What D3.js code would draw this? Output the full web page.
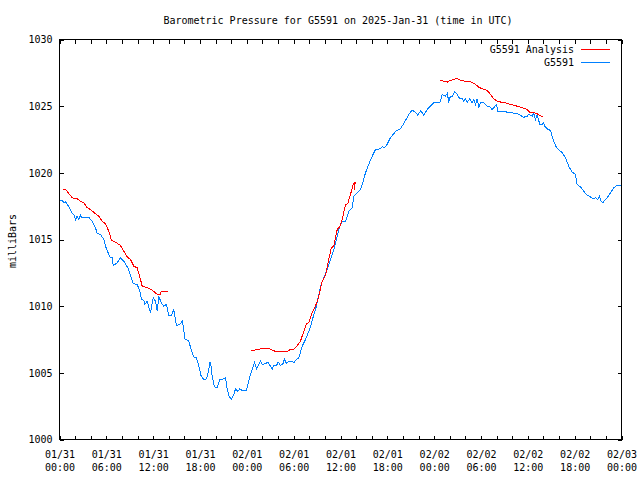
<!DOCTYPE html>
<html>
<head>
<meta charset="utf-8">
<script src="https://cdn.jsdelivr.net/npm/d3@7"></script>
<style>
  html, body { margin: 0; padding: 0; background: #fff; }
  svg text { font-family: "DejaVu Sans Mono", "Liberation Mono", monospace; font-size: 10px; fill: #000; }
</style>
</head>
<body>
<svg id="chart" width="640" height="480"></svg>
<script>
// ---- Data (hours since 2025-01-31 00:00 UTC, pressure in millibars) ----
const stationName = "G5591";
const analysisName = "G5591 Analysis";
const titleText = "Barometric Pressure for G5591 on 2025-Jan-31 (time in UTC)";
const yLabelText = "milliBars";
const yTicks = [1000, 1005, 1010, 1015, 1020, 1025, 1030];

const stationHours = [0.0,0.35,0.55,0.77,0.99,1.41,1.63,1.83,2.05,2.27,2.47,2.69,2.91,3.33,3.75,3.97,4.19,4.61,4.83,5.25,5.68,5.89,6.32,6.53,6.75,6.88,7.39,7.81,8.24,8.75,9.1,9.44,9.95,10.29,10.5,10.8,10.93,11.23,11.66,12.0,12.3,12.52,12.72,13.03,13.36,13.71,14.0,14.35,14.64,14.99,15.41,15.72,15.92,16.01,16.27,16.56,16.87,17.2,17.55,17.85,18.15,18.49,18.83,19.13,19.25,19.43,19.56,19.77,19.98,20.2,20.54,21.05,21.27,21.49,21.69,22.0,22.33,22.55,22.84,23.1,23.4,23.96,24.25,24.47,24.81,24.98,25.24,25.53,25.75,25.97,26.39,26.68,27.03,27.25,27.45,27.8,28.02,28.31,28.66,28.82,29.08,29.37,29.81,30.02,30.23,30.66,31.09,31.51,31.94,32.28,32.58,32.92,33.44,33.86,34.29,34.72,35.14,35.58,35.91,36.22,36.64,36.86,37.06,37.5,37.7,38.14,38.56,38.91,39.2,39.62,40.06,40.48,41.12,41.34,41.63,41.98,42.31,42.75,43.17,43.6,44.03,44.33,44.75,45.18,45.61,45.9,46.25,46.46,46.67,47.1,47.53,47.95,48.39,48.72,49.03,49.45,49.67,49.87,50.09,50.31,50.6,50.95,51.15,51.59,51.79,52.01,52.23,52.56,52.87,53.07,53.29,53.51,53.72,53.93,54.36,54.79,55.12,55.43,55.64,55.98,56.15,56.5,56.84,57.35,57.99,58.63,59.06,59.48,59.92,60.12,60.56,60.76,60.98,61.2,61.53,61.84,62.04,62.13,62.48,62.9,63.12,63.32,63.63,63.96,64.4,64.82,65.24,65.68,66.1,66.32,66.74,67.17,67.51,68.02,68.37,68.66,68.96,69.18,69.4,69.6,69.95,70.24,70.59,71.01,71.45,71.87,72.0];
const stationValues = [1017.87,1017.93,1017.75,1017.83,1017.63,1017.25,1016.95,1016.88,1016.5,1016.75,1016.5,1016.82,1016.63,1016.63,1016.67,1016.5,1016.37,1015.88,1015.45,1015.38,1015.0,1014.5,1013.88,1013.63,1013.63,1013.05,1013.25,1013.63,1013.37,1012.88,1012.3,1011.7,1011.63,1011.12,1010.5,1010.45,1010.13,1010.37,1009.5,1010.63,1010.37,1009.62,1010.75,1010.25,1010.0,1010.13,1009.3,1009.3,1009.75,1008.55,1008.63,1008.87,1008.38,1007.55,1007.5,1007.37,1006.75,1006.2,1006.13,1005.5,1004.75,1004.5,1004.55,1005.25,1005.83,1005.5,1004.75,1004.13,1003.88,1003.88,1004.5,1004.55,1004.63,1003.75,1003.3,1003.0,1003.38,1003.8,1003.62,1003.8,1003.68,1003.68,1004.37,1004.88,1005.5,1005.75,1005.3,1005.63,1005.87,1005.63,1005.68,1005.8,1005.5,1005.25,1005.55,1005.55,1005.8,1005.55,1005.7,1006.05,1005.7,1005.87,1005.87,1005.75,1005.93,1006.13,1007.0,1007.5,1008.12,1008.7,1009.38,1010.0,1011.5,1012.13,1012.75,1013.5,1014.25,1015.25,1016.0,1016.37,1016.37,1016.75,1017.12,1017.38,1018.25,1018.5,1018.75,1019.37,1020.0,1020.63,1021.25,1021.75,1021.8,1021.95,1021.88,1022.13,1022.55,1022.88,1023.18,1023.25,1023.63,1023.93,1024.37,1024.7,1024.55,1024.33,1024.63,1024.5,1024.3,1024.75,1025.0,1025.25,1025.3,1025.25,1025.88,1025.75,1025.95,1025.37,1025.75,1025.7,1026.08,1025.88,1025.63,1025.55,1025.37,1025.55,1025.3,1025.55,1025.25,1025.5,1025.13,1025.55,1024.88,1025.25,1025.25,1025.0,1024.95,1024.75,1024.88,1025.13,1024.62,1024.62,1024.62,1024.55,1024.5,1024.45,1024.3,1024.17,1024.25,1024.38,1024.25,1024.5,1024.0,1024.38,1023.63,1023.63,1023.8,1023.5,1023.3,1023.18,1022.75,1022.37,1021.95,1021.75,1021.5,1021.13,1020.5,1020.05,1019.88,1019.13,1018.95,1018.62,1018.37,1018.2,1018.05,1018.13,1018.0,1018.25,1017.87,1017.75,1018.0,1018.2,1018.5,1018.88,1019.07,1019.05,1019.0];

// Analysis: null marks a gap between runs
const analysisHours = [0.47,0.9,1.19,1.63,2.27,2.69,3.11,3.55,3.97,4.61,5.03,5.47,5.89,6.32,6.66,7.17,7.81,8.24,8.67,9.1,9.52,9.95,10.38,10.59,11.23,11.88,12.52,12.94,13.03,13.93,
  null,
  24.6,25.33,25.75,26.94,27.67,29.17,29.59,30.02,30.45,30.87,31.3,31.64,31.94,32.37,32.92,33.22,33.65,34.08,34.5,34.81,35.14,35.58,35.91,36.22,36.64,36.93,37.28,37.62,37.79,37.83,37.87,
  null,
  48.72,49.23,49.67,50.09,50.86,51.37,52.01,52.65,53.29,53.72,54.36,54.79,55.21,55.64,56.07,56.58,57.14,57.78,58.63,59.27,59.92,60.34,60.85,61.2,61.53,61.97];
const analysisValues = [1018.75,1018.7,1018.45,1018.13,1018.05,1017.87,1017.75,1017.38,1017.25,1016.93,1016.75,1016.37,1016.18,1015.62,1014.95,1014.8,1014.55,1014.12,1013.7,1013.5,1013.0,1012.88,1012.0,1011.5,1011.38,1011.2,1010.88,1010.88,1011.12,1011.12,
  null,
  1006.65,1006.75,1006.8,1006.8,1006.6,1006.6,1006.75,1006.75,1007.05,1007.37,1008.12,1008.7,1008.75,1009.5,1010.2,1010.75,1011.87,1012.3,1013.5,1014.38,1014.5,1015.75,1015.95,1016.5,1017.62,1017.7,1018.37,1019.13,1019.25,1018.75,1019.3,
  null,
  1026.93,1026.87,1026.8,1026.93,1027.08,1026.95,1026.87,1026.83,1026.63,1026.42,1026.25,1026.18,1025.88,1025.55,1025.37,1025.3,1025.25,1025.13,1025.0,1024.88,1024.75,1024.5,1024.5,1024.43,1024.3,1024.2];

// ---- Build ----
const start = Date.UTC(2025, 0, 31, 0, 0);
const end = Date.UTC(2025, 1, 3, 0, 0);
const toDate = h => new Date(start + h * 3600000);

const station = stationHours.map((h, i) => ({ t: toDate(h), v: stationValues[i] }));
const analysis = analysisHours.map((h, i) => (h === null ? { t: null, v: null } : { t: toDate(h), v: analysisValues[i] }));

const L = 59.5, R = 621.5, T = 39.5, B = 439.5;
const svg = d3.select("#chart");

const x = d3.scaleUtc().domain([new Date(start), new Date(end)]).range([L, R]);
const y = d3.scaleLinear().domain([1000, 1030]).range([B, T]);

// title
svg.append("text").attr("x", 338).attr("y", 24).attr("text-anchor", "middle").text(titleText);

// y label
svg.append("text")
  .attr("transform", "translate(12,241) rotate(-90)")
  .attr("text-anchor", "middle").attr("dominant-baseline", "central")
  .text(yLabelText);

const tickEvery = d3.utcHour.every(2);

// bottom axis
const gx = svg.append("g").attr("transform", `translate(0,${B})`)
  .call(d3.axisBottom(x).ticks(tickEvery).tickSizeInner(-4).tickSizeOuter(0).tickFormat(() => ""));
gx.select(".domain").remove();
gx.selectAll("line").attr("stroke", "#000").attr("shape-rendering", "crispEdges");
gx.selectAll(".tick").each(function (d) {
  const g = d3.select(this);
  g.select("text").remove();
  if (d.getUTCHours() % 6 === 0) {
    const t = g.append("text").attr("text-anchor", "middle").attr("fill", "#000");
    t.append("tspan").attr("x", 0).attr("y", 18).text(d3.utcFormat("%m/%d")(d));
    t.append("tspan").attr("x", 0).attr("y", 31).text(d3.utcFormat("%H:%M")(d));
  }
});

// top axis (mirror ticks)
const gxt = svg.append("g").attr("transform", `translate(0,${T})`)
  .call(d3.axisTop(x).ticks(tickEvery).tickSizeInner(-4).tickSizeOuter(0).tickFormat(() => ""));
gxt.select(".domain").remove();
gxt.selectAll("text").remove();
gxt.selectAll("line").attr("stroke", "#000").attr("shape-rendering", "crispEdges");

// left axis
const gy = svg.append("g").attr("transform", `translate(${L},0)`)
  .call(d3.axisLeft(y).tickValues(yTicks).tickSizeInner(-4).tickSizeOuter(0).tickPadding(7).tickFormat(d3.format("d")));
gy.select(".domain").remove();
gy.selectAll("line").attr("stroke", "#000").attr("shape-rendering", "crispEdges");
gy.selectAll("text").attr("fill", "#000");
gy.attr("font-family", null).attr("font-size", null);
gx.attr("font-family", null).attr("font-size", null);

// right axis (mirror ticks)
const gyr = svg.append("g").attr("transform", `translate(${R},0)`)
  .call(d3.axisRight(y).tickValues(yTicks).tickSizeInner(-4).tickSizeOuter(0).tickFormat(() => ""));
gyr.select(".domain").remove();
gyr.selectAll("text").remove();
gyr.selectAll("line").attr("stroke", "#000").attr("shape-rendering", "crispEdges");

// frame
svg.append("rect").attr("x", L).attr("y", T).attr("width", R - L).attr("height", B - T)
  .attr("fill", "none").attr("stroke", "#000").attr("shape-rendering", "crispEdges");

// lines
const line = d3.line().defined(d => d.t !== null).x(d => x(d.t)).y(d => y(d.v));
svg.append("path").datum(station).attr("d", line)
  .attr("fill", "none").attr("stroke", "#0080ff").attr("stroke-width", 1).attr("shape-rendering", "crispEdges");
svg.append("path").datum(analysis).attr("d", line)
  .attr("fill", "none").attr("stroke", "#ff0000").attr("stroke-width", 1).attr("shape-rendering", "crispEdges");

// legend
const legend = [
  { name: analysisName, color: "#ff0000" },
  { name: stationName, color: "#0080ff" }
];
legend.forEach((d, i) => {
  const yy = 49.5 + i * 13;
  svg.append("text").attr("x", 574).attr("y", yy).attr("text-anchor", "end")
    .attr("dominant-baseline", "central").text(d.name);
  svg.append("line").attr("x1", 581).attr("x2", 610).attr("y1", yy).attr("y2", yy)
    .attr("stroke", d.color).attr("shape-rendering", "crispEdges");
});
</script>
</body>
</html>
